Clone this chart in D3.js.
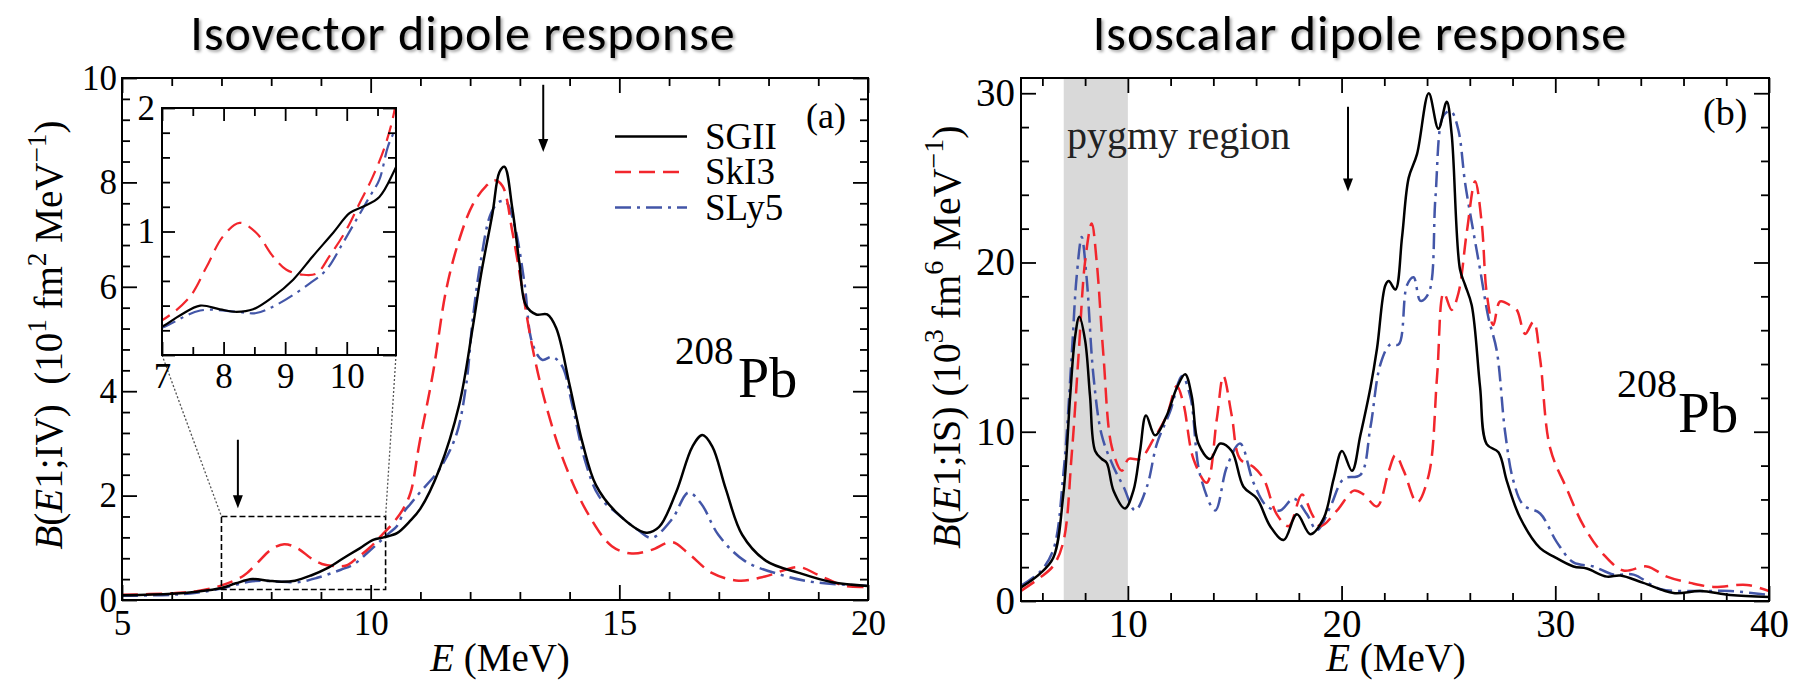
<!DOCTYPE html>
<meta charset="utf-8">

<!-- Load d3.js -->
<script src="https://d3js.org/d3.v7.min.js"></script>

<style>
  body { margin: 0; background: #fff; }
  .serif { font-family: "Liberation Serif", "Times New Roman", serif; }
</style>

<!-- Create a div where the graph will take place -->
<div id="my_dataviz"></div>

<script>

// ---- data: [E (MeV), strength] ----
// isovector dipole, panel (a)
var ivSGII = [[5,0.09],[6,0.12],[6.5,0.16],[7,0.23],[7.29,0.32],[7.62,0.4],[7.94,0.37],[8.21,0.35],[8.48,0.37],[8.8,0.47],[9.13,0.61],[9.45,0.8],[9.78,0.99],[10.05,1.15],[10.26,1.2],[10.53,1.28],[10.78,1.5],[11.0,1.75],[11.38,2.5],[11.78,3.74],[12.05,5.21],[12.22,6.24],[12.45,7.41],[12.59,8.2],[12.69,8.3],[12.85,7.49],[12.99,6.46],[13.12,5.65],[13.33,5.47],[13.55,5.47],[13.73,5.21],[14.0,4.12],[14.26,3.01],[14.53,2.2],[14.93,1.69],[15.54,1.29],[15.8,1.4],[16.14,2.06],[16.47,2.94],[16.67,3.16],[16.87,2.94],[17.14,2.13],[17.47,1.25],[17.95,0.75],[18.61,0.52],[19.28,0.34],[20,0.27]];
var ivSkI3 = [[5,0.1],[6,0.13],[6.5,0.17],[7,0.28],[7.45,0.47],[7.72,0.71],[7.99,0.96],[8.26,1.07],[8.53,0.99],[8.8,0.8],[9.02,0.69],[9.29,0.65],[9.51,0.66],[9.72,0.8],[9.99,1.01],[10.21,1.23],[10.42,1.44],[10.64,1.72],[10.8,2.05],[10.98,3.0],[11.25,4.33],[11.52,5.95],[11.78,6.9],[12.05,7.57],[12.32,7.93],[12.49,8.04],[12.65,7.93],[12.85,7.05],[13.05,5.95],[13.25,4.85],[13.52,3.75],[13.92,2.57],[14.39,1.62],[14.85,1.03],[15.25,0.89],[15.65,0.96],[16.06,1.11],[16.39,0.89],[16.86,0.52],[17.4,0.37],[17.93,0.45],[18.6,0.63],[19.0,0.48],[19.53,0.27],[20,0.25]];
var ivSLy5 = [[5,0.08],[6,0.1],[6.5,0.14],[7,0.22],[7.62,0.36],[8.21,0.35],[8.53,0.34],[8.91,0.42],[9.4,0.58],[9.67,0.69],[9.93,0.9],[10.15,1.09],[10.37,1.28],[10.53,1.42],[10.67,1.69],[10.8,1.84],[10.98,2.05],[11.38,2.5],[11.72,3.16],[11.92,4.12],[12.05,5.36],[12.22,6.53],[12.42,7.41],[12.59,7.63],[12.72,7.63],[12.89,7.19],[13.09,6.09],[13.25,4.92],[13.45,4.6],[13.65,4.66],[13.85,4.48],[14.05,3.75],[14.32,2.64],[14.59,1.99],[14.99,1.63],[15.39,1.33],[15.65,1.19],[16.06,1.55],[16.39,2.06],[16.65,1.84],[16.99,1.25],[17.52,0.75],[18.26,0.48],[18.93,0.34],[20,0.27]];

// isoscalar dipole, panel (b)
var isSGII = [[5,0.8],[5.89,1.62],[6.51,2.55],[6.98,6.29],[7.3,12.1],[7.53,15.6],[7.73,16.8],[8.0,15.4],[8.23,12.1],[8.47,8.86],[8.78,8.39],[9.01,8.16],[9.33,6.52],[9.87,5.47],[10.26,6.52],[10.57,8.86],[10.85,10.96],[11.27,9.79],[11.82,10.96],[12.29,12.6],[12.68,13.4],[12.99,12.1],[13.3,9.3],[13.85,8.39],[14.32,9.3],[14.86,8.86],[15.41,6.75],[16.04,6.05],[16.66,4.42],[17.29,3.6],[17.91,5.12],[18.54,3.95],[19.16,4.88],[19.63,7.22],[20.02,8.86],[20.49,7.69],[20.88,9.79],[21.35,12.6],[21.66,14.93],[22.05,18.66],[22.21,18.9],[22.52,18.4],[22.83,21.5],[23.14,25.0],[23.53,26.4],[24.08,30.0],[24.53,27.9],[24.92,29.5],[25.15,27.6],[25.54,19.6],[25.78,18.67],[26.09,17.47],[26.48,12.65],[26.79,9.27],[27.34,8.79],[27.73,7.1],[28.35,4.93],[29.29,3.12],[29.91,2.64],[30.85,2.04],[31.47,1.92],[32.41,1.44],[33.04,1.51],[34.12,1.07],[35.53,0.47],[36.78,0.59],[38.18,0.35],[40,0.23]];
var isSkI3 = [[5,0.6],[5.89,1.38],[6.51,2.08],[6.98,3.49],[7.37,8.6],[7.69,14.46],[8.0,20.07],[8.31,22.3],[8.54,20.07],[8.86,14.46],[9.25,9.09],[9.72,7.69],[10.03,8.39],[10.57,8.39],[11.2,9.56],[11.82,10.96],[12.29,12.7],[12.6,11.66],[13.07,8.39],[13.69,6.99],[14.16,10.73],[14.47,13.3],[14.86,10.96],[15.25,8.39],[15.88,7.92],[16.35,7.22],[16.97,5.12],[17.52,4.42],[18.15,6.29],[18.62,5.12],[19.01,4.42],[19.79,5.35],[20.57,6.52],[21.04,6.29],[21.66,5.59],[22.21,7.69],[22.52,8.62],[22.91,7.69],[23.53,5.82],[24.08,7.45],[24.47,13.3],[24.78,18.2],[25.15,17.2],[25.47,18.2],[25.86,21.8],[26.25,24.8],[26.56,22.3],[26.79,18.2],[27.1,16.3],[27.42,17.7],[27.89,17.47],[28.2,17.2],[28.59,15.78],[28.98,16.5],[29.29,14.3],[29.76,9.03],[30.54,6.62],[31.32,4.45],[32.25,2.76],[33.19,1.8],[34.28,2.04],[35.22,1.44],[36.31,1.07],[37.4,0.83],[38.96,0.95],[40,0.59]];
var isSLy5 = [[5,0.9],[5.89,1.73],[6.51,3.02],[6.98,7.45],[7.37,14.46],[7.6,19.1],[7.84,21.5],[8.07,19.1],[8.39,13.3],[8.78,9.79],[9.33,7.92],[9.8,6.75],[10.34,5.35],[10.89,6.75],[11.36,9.3],[11.98,11.2],[12.53,13.3],[12.92,12.1],[13.38,7.45],[14.09,5.35],[14.63,7.92],[15.25,9.3],[15.88,6.99],[16.51,5.59],[17.13,5.35],[17.76,6.05],[18.38,5.12],[18.85,4.18],[19.48,5.59],[20.1,7.22],[20.88,7.45],[21.35,10.26],[21.82,14.0],[22.28,15.16],[22.67,15.16],[23.06,18.66],[23.37,19.13],[23.69,17.73],[24.08,18.2],[24.39,23.8],[24.7,28.5],[24.94,28.9],[25.15,28.9],[25.47,27.8],[25.78,24.7],[26.17,21.8],[26.48,19.6],[26.87,16.75],[27.26,14.8],[27.65,10.0],[28.04,7.1],[28.51,5.66],[29.29,5.17],[30.07,3.48],[30.85,2.28],[31.78,2.04],[32.72,1.56],[33.66,1.56],[34.9,0.71],[36.62,0.59],[38.18,0.59],[40,0.35]];

var models = ["SGII", "SkI3", "SLy5"];

// tick labels
var ivXTicks = [5, 10, 15, 20];
var ivYTicks = [0, 2, 4, 6, 8, 10];
var insetXTicks = [7, 8, 9, 10];
var insetYTicks = [1, 2];
var isXTicks = [10, 20, 30, 40];
var isYTicks = [0, 10, 20, 30];

// annotations: arrows [E, from, to], zoom box [E0, E1, B0, B1], pygmy band [E0, E1]
var ivArrows = [[13.47, 9.87, 8.58], [7.33, 3.07, 1.76]];
var isArrows = [[20.3, 29.2, 24.2]];
var zoomBox = [7, 10.3, 0.2, 1.6];
var pygmyBand = [7, 10];

// ---- styles ----
var SERIF = "'Liberation Serif', 'Times New Roman', serif";
var colors = { SGII: "#000000", SkI3: "#f2262c", SLy5: "#4356a8" };
var dashes = { SGII: null, SkI3: "16,8", SLy5: "16,6,3,6" };

var W = 1802, H = 681;
var svg = d3.select("#my_dataviz")
  .append("svg")
    .attr("width", W)
    .attr("height", H);

var defs = svg.append("defs");
defs.append("filter").attr("id", "shadow")
  .attr("x", "-10%").attr("y", "-40%").attr("width", "120%").attr("height", "180%")
  .append("feDropShadow")
    .attr("dx", 2).attr("dy", 2).attr("stdDeviation", 1.5)
    .attr("flood-color", "#000").attr("flood-opacity", 0.35);

function clip(id, x, y) {
  defs.append("clipPath").attr("id", id)
    .append("rect")
      .attr("x", x.range()[0]).attr("y", y.range()[1])
      .attr("width", x.range()[1] - x.range()[0])
      .attr("height", y.range()[0] - y.range()[1]);
}

function steps(a, b, s) {
  var out = [];
  for (var i = 0; a + i * s <= b + 1e-9; i++) out.push(+(a + i * s).toFixed(4));
  return out;
}

// frame with inward ticks on all four sides
function frame(g, x, y, o) {
  var x0 = x.range()[0], x1 = x.range()[1], y0 = y.range()[0], y1 = y.range()[1];
  var xMinor = o.xAll.filter(function(v) { return o.xMajor.indexOf(v) < 0; });
  var yMinor = o.yAll.filter(function(v) { return o.yMajor.indexOf(v) < 0; });

  var axes = [
    [d3.axisBottom(x).tickValues(o.xMajor).tickSize(-o.big).tickPadding(o.xPad).tickFormat(function(d) { return o.xLabels.indexOf(d) >= 0 ? d : ""; }), "translate(0," + y0 + ")"],
    [d3.axisBottom(x).tickValues(xMinor).tickSize(-o.small).tickFormat(""), "translate(0," + y0 + ")"],
    [d3.axisTop(x).tickValues(o.xMajor).tickSize(-o.big).tickFormat(""), "translate(0," + y1 + ")"],
    [d3.axisTop(x).tickValues(xMinor).tickSize(-o.small).tickFormat(""), "translate(0," + y1 + ")"],
    [d3.axisLeft(y).tickValues(o.yMajor).tickSize(-o.big).tickPadding(o.yPad).tickFormat(function(d) { return o.yLabels.indexOf(d) >= 0 ? d : ""; }), "translate(" + x0 + ",0)"],
    [d3.axisLeft(y).tickValues(yMinor).tickSize(-o.small).tickFormat(""), "translate(" + x0 + ",0)"],
    [d3.axisRight(y).tickValues(o.yMajor).tickSize(-o.big).tickFormat(""), "translate(" + x1 + ",0)"],
    [d3.axisRight(y).tickValues(yMinor).tickSize(-o.small).tickFormat(""), "translate(" + x1 + ",0)"]
  ];
  axes.forEach(function(a) {
    var ag = g.append("g").attr("transform", a[1]).call(a[0].tickSizeOuter(0));
    ag.attr("font-family", SERIF).attr("font-size", o.fs);
    ag.select(".domain").remove();
    ag.selectAll("line").attr("stroke", "#000").attr("stroke-width", 1.8);
    ag.selectAll("text")
      .style("font-family", SERIF)
      .style("font-size", o.fs + "px")
      .attr("fill", "#000");
  });
  g.append("rect")
    .attr("x", x0).attr("y", y1)
    .attr("width", x1 - x0).attr("height", y0 - y1)
    .attr("fill", "none").attr("stroke", "#000").attr("stroke-width", 2);
}

function curves(g, x, y, series, clipId, width) {
  var line = d3.line()
    .x(function(d) { return x(d[0]); })
    .y(function(d) { return y(d[1]); })
    .curve(d3.curveCatmullRom.alpha(0.5));
  var cg = g.append("g").attr("clip-path", "url(#" + clipId + ")");
  // draw black last so it sits on top
  ["SLy5", "SkI3", "SGII"].forEach(function(m) {
    cg.append("path")
      .datum(series[m])
      .attr("fill", "none")
      .attr("stroke", colors[m])
      .attr("stroke-width", width)
      .attr("stroke-dasharray", dashes[m])
      .attr("d", line);
  });
}

function arrows(g, x, y, list) {
  list.forEach(function(a) {
    var px = x(a[0]), ya = y(a[1]), yb = y(a[2]);
    g.append("line")
      .attr("x1", px).attr("x2", px)
      .attr("y1", ya).attr("y2", yb - 10)
      .attr("stroke", "#000").attr("stroke-width", 2);
    g.append("path")
      .attr("d", "M" + (px - 5) + "," + (yb - 13) + "L" + (px + 5) + "," + (yb - 13) + "L" + px + "," + yb + "Z")
      .attr("fill", "#000");
  });
}

function serifText(g, x, y, size) {
  return g.append("text")
    .attr("x", x).attr("y", y)
    .style("font-family", SERIF)
    .style("font-size", size + "px")
    .attr("fill", "#000");
}

// y-axis title with italic B, E and superscripts
function yTitle(g, cx, cy, size, parts) {
  var t = serifText(g, 0, 0, size)
    .attr("text-anchor", "middle")
    .attr("transform", "translate(" + cx + "," + cy + ") rotate(-90)");
  var shift = 0;
  parts.forEach(function(p) {
    var ts = t.append("tspan").text(p.t);
    if (p.i) ts.style("font-style", "italic");
    var target = p.sup ? -0.42 * size : 0;
    if (target !== shift) { ts.attr("dy", target - shift); shift = target; }
    if (p.sup) ts.style("font-size", (size * 0.7) + "px");
  });
}

function xTitle(g, cx, by, size) {
  var t = serifText(g, cx, by, size).attr("text-anchor", "middle");
  t.append("tspan").style("font-style", "italic").text("E");
  t.append("tspan").text(" (MeV)");
}

function title(g, cx, by, txt) {
  g.append("text")
    .attr("x", cx).attr("y", by)
    .attr("text-anchor", "middle")
    .attr("filter", "url(#shadow)")
    .style("font-family", "Carlito, Calibri, Lato, 'Noto Sans', sans-serif")
    .style("font-size", "50px")
    .style("letter-spacing", "1px")
    .attr("fill", "#000")
    .text(txt);
}

function pb(g, x208, b208, xPb, bPb, s208, sPb) {
  serifText(g, x208, b208, s208).text("208");
  serifText(g, xPb, bPb, sPb).text("Pb");
}

// ===================== panel (a): isovector =====================
var ga = svg.append("g");
var xa = d3.scaleLinear().domain([5, 20]).range([122, 868]);
var ya = d3.scaleLinear().domain([0, 10]).range([600, 78]);
clip("clipA", xa, ya);

curves(ga, xa, ya, { SGII: ivSGII, SkI3: ivSkI3, SLy5: ivSLy5 }, "clipA", 2.5);

frame(ga, xa, ya, {
  xAll: steps(5, 20, 1), xMajor: [5, 10, 15, 20], xLabels: ivXTicks,
  yAll: steps(0, 10, 0.4), yMajor: [0, 2, 4, 6, 8, 10], yLabels: ivYTicks,
  big: 15, small: 8, fs: 35, xPad: 10, yPad: 5
});

// dashed zoom box
ga.append("rect")
  .attr("x", xa(zoomBox[0])).attr("y", ya(zoomBox[3]))
  .attr("width", xa(zoomBox[1]) - xa(zoomBox[0]))
  .attr("height", ya(zoomBox[2]) - ya(zoomBox[3]))
  .attr("fill", "none").attr("stroke", "#000")
  .attr("stroke-width", 1.6).attr("stroke-dasharray", "6,3");

arrows(ga, xa, ya, ivArrows);

// inset
var xi = d3.scaleLinear().domain([7, 10.8]).range([162, 396]);
var yi = d3.scaleLinear().domain([0, 2]).range([355, 108]);
clip("clipI", xi, yi);

// dotted connectors from the box to the inset
ga.append("line")
  .attr("x1", xi(7)).attr("y1", yi(0)).attr("x2", xa(zoomBox[0])).attr("y2", ya(zoomBox[3]))
  .attr("stroke", "#555").attr("stroke-width", 1.3).attr("stroke-dasharray", "2,2");
ga.append("line")
  .attr("x1", xi(10.8)).attr("y1", yi(0)).attr("x2", xa(zoomBox[1])).attr("y2", ya(zoomBox[3]))
  .attr("stroke", "#555").attr("stroke-width", 1.3).attr("stroke-dasharray", "2,2");

ga.append("rect")
  .attr("x", xi.range()[0]).attr("y", yi.range()[1])
  .attr("width", xi.range()[1] - xi.range()[0]).attr("height", yi.range()[0] - yi.range()[1])
  .attr("fill", "#fff");
curves(ga, xi, yi, { SGII: ivSGII, SkI3: ivSkI3, SLy5: ivSLy5 }, "clipI", 2.2);
frame(ga, xi, yi, {
  xAll: steps(7, 10.5, 0.5), xMajor: [7, 8, 9, 10], xLabels: insetXTicks,
  yAll: steps(0, 2, 0.2), yMajor: [0, 1, 2], yLabels: insetYTicks,
  big: 13, small: 8, fs: 35, xPad: 8, yPad: 7
});

// legend
models.forEach(function(m, i) {
  var ly = 136.5 + i * 35.5;
  ga.append("line")
    .attr("x1", 615).attr("x2", 687).attr("y1", ly).attr("y2", ly)
    .attr("stroke", colors[m]).attr("stroke-width", 2.5)
    .attr("stroke-dasharray", dashes[m]);
  serifText(ga, 705, ly + 12, 37).text(m);
});

serifText(ga, 806, 128, 36).text("(a)");
pb(ga, 675, 364, 738, 397, 39, 56);

yTitle(ga, 62, 335, 39, [
  { t: "B", i: true }, { t: "(" }, { t: "E", i: true }, { t: "1;IV)\u00a0\u00a0(10" },
  { t: "1", sup: true }, { t: " fm" }, { t: "2", sup: true }, { t: " MeV" },
  { t: "\u22121", sup: true }, { t: ")" }
]);
xTitle(ga, 500, 671, 39);
title(ga, 463, 50, "Isovector dipole response");

// ===================== panel (b): isoscalar =====================
var gb = svg.append("g");
var xb = d3.scaleLinear().domain([5, 40]).range([1021, 1769]);
var yb = d3.scaleLinear().domain([0, 30.9]).range([601, 78]);
clip("clipB", xb, yb);

gb.append("rect")
  .attr("x", xb(pygmyBand[0])).attr("y", yb.range()[1])
  .attr("width", xb(pygmyBand[1]) - xb(pygmyBand[0]))
  .attr("height", yb.range()[0] - yb.range()[1])
  .attr("fill", "#d9d9d9");

curves(gb, xb, yb, { SGII: isSGII, SkI3: isSkI3, SLy5: isSLy5 }, "clipB", 2.5);

frame(gb, xb, yb, {
  xAll: steps(6, 40, 2), xMajor: [10, 20, 30, 40], xLabels: isXTicks,
  yAll: steps(0, 30, 2), yMajor: [0, 10, 20, 30], yLabels: isYTicks,
  big: 15, small: 8, fs: 39, xPad: 8, yPad: 6
});

arrows(gb, xb, yb, isArrows);

serifText(gb, 1067, 149, 40).attr("fill", "#222").text("pygmy region");
serifText(gb, 1703, 125, 38).text("(b)");
pb(gb, 1617, 397, 1678, 432, 40, 57);

yTitle(gb, 960, 337, 40, [
  { t: "B", i: true }, { t: "(" }, { t: "E", i: true }, { t: "1;IS) (10" },
  { t: "3", sup: true }, { t: " fm" }, { t: "6", sup: true }, { t: " MeV" },
  { t: "\u22121", sup: true }, { t: ")" }
]);
xTitle(gb, 1396, 671, 39);
title(gb, 1360, 50, "Isoscalar dipole response");

</script>
